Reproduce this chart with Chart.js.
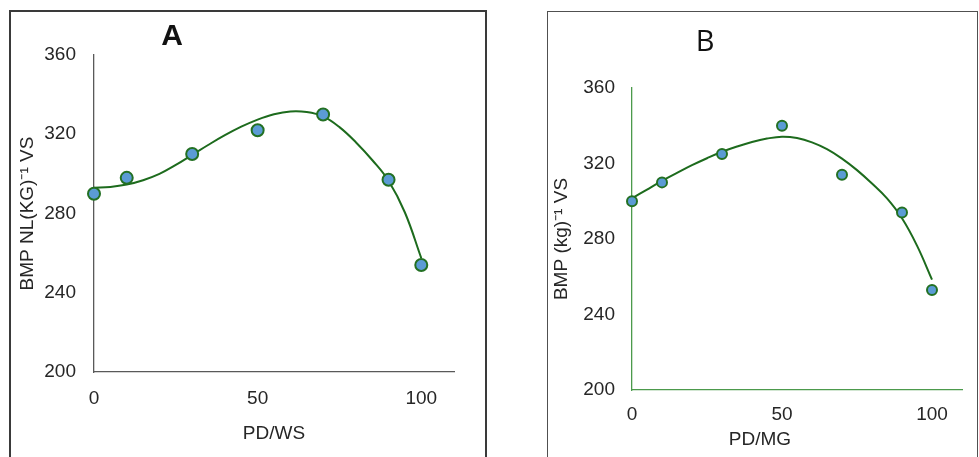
<!DOCTYPE html>
<html>
<head>
<meta charset="utf-8">
<script src="https://cdn.jsdelivr.net/npm/chart.js@4/dist/chart.umd.min.js"></script>
<style>
  body { margin: 0; background: #fff; width: 979px; height: 457px; overflow: hidden; position: relative; }
  .frame { position: absolute; box-sizing: border-box; }
  #frameA { left: 9px; top: 10px; width: 478px; height: 470px; border: 2px solid #3a3a3a; }
  #frameB { left: 547px; top: 11px; width: 431px; height: 470px; border: 1.5px solid #505050; }
  canvas { position: absolute; }
  #chartA { left: 10px; top: 11px; }
  #chartB { left: 548px; top: 12px; }
</style>
</head>
<body>
<div class="frame" id="frameA"></div>
<div class="frame" id="frameB"></div>
<canvas id="chartA" width="474" height="446"></canvas>
<canvas id="chartB" width="429" height="445"></canvas>
<script>
// Measured points
const pdRatio = [0, 10, 30, 50, 70, 90, 100];
const bmpWS = [290, 298, 310, 322, 330, 297, 254];
const bmpMG = [300, 310, 325, 340, 314, 294, 253];

// Trend lines, every 5 units of x
const trendX = [0, 5, 10, 15, 20, 25, 30, 35, 40, 45, 50, 55, 60, 65, 70, 75, 80, 85, 90, 95, 100];
const trendWS = [293, 293.4, 294.6, 296.8, 300, 304.5, 309.6, 314.7, 319.5, 323.8, 327.4, 330.1, 331.5, 331.2, 329, 323.6, 316, 307, 296.5, 280.5, 257.5];
const trendMG = [301.5, 306.2, 310.8, 315, 319.1, 322.8, 326.2, 329, 331.4, 333.2, 334.2, 333.5, 331.2, 327.6, 322.6, 316.5, 309.4, 301.5, 291, 276.5, 258.5];

// Axis ticks
const xTicks = [0, 50, 100];
const yTicks = [200, 240, 280, 320, 360];

const FONT = "'Liberation Sans', Arial, sans-serif";
const TEXT = '#262626';

// draws panel letter and any free-placed labels
const labelPlugin = {
  id: 'freeLabels',
  afterDraw(chart, args, opts) {
    const ctx = chart.ctx;
    (opts.items || []).forEach(it => {
      ctx.save();
      ctx.font = it.font;
      ctx.fillStyle = it.color || TEXT;
      ctx.textAlign = 'center';
      ctx.textBaseline = 'middle';
      ctx.fillText(it.text, it.x, it.y);
      ctx.restore();
    });
  }
};

function pts(xs, ys) {
  return xs.map((x, i) => ({ x: x, y: ys[i] }));
}

function makeChart(id, cfg) {
  return new Chart(document.getElementById(id), {
    type: 'line',
    data: {
      datasets: [
        {
          label: 'trend',
          data: pts(trendX, cfg.trend),
          borderColor: '#1d6b1d',
          borderWidth: 2,
          tension: 0.4,
          pointRadius: 0,
          clip: false,
          order: 2
        },
        {
          label: 'measured',
          data: pts(pdRatio, cfg.values),
          showLine: false,
          backgroundColor: '#5b9bd5',
          borderColor: '#237023',
          borderWidth: 2,
          pointRadius: cfg.r,
          clip: false,
          order: 1
        }
      ]
    },
    plugins: [labelPlugin],
    options: {
      responsive: false,
      animation: false,
      layout: { padding: cfg.pad },
      plugins: {
        legend: { display: false },
        tooltip: { enabled: false },
        freeLabels: { items: cfg.labels }
      },
      scales: {
        x: {
          type: 'linear',
          min: 0,
          max: 110,
          afterBuildTicks: s => { s.ticks = xTicks.map(v => ({ value: v })); },
          afterFit: s => { s.height = cfg.xh; },
          grid: { display: false, drawTicks: false },
          border: { display: true, color: cfg.axis, width: 1.3 },
          ticks: { padding: cfg.xtp, color: TEXT, font: { family: FONT, size: 19 } },
          title: cfg.xTitle
            ? { display: true, text: cfg.xTitle, color: TEXT, padding: { top: 0, bottom: cfg.xtb }, font: { family: FONT, size: 19 } }
            : { display: false }
        },
        y: {
          min: 200,
          max: 360,
          afterBuildTicks: s => { s.ticks = yTicks.map(v => ({ value: v })); },
          afterFit: s => { s.width = cfg.yw; },
          grid: { display: false, drawTicks: false },
          border: { display: true, color: cfg.axis, width: 1.3 },
          ticks: { padding: cfg.ytp, color: TEXT, font: { family: FONT, size: 19 } },
          title: { display: true, text: cfg.yTitle, color: TEXT, padding: { top: cfg.ytt, bottom: 0 }, font: { family: FONT, size: 19 } }
        }
      }
    }
  });
}

makeChart('chartA', {
  values: bmpWS,
  trend: trendWS,
  r: 6,
  axis: '#595959',
  pad: { left: 0, right: 30, top: 44, bottom: 0 },
  yw: 84, xh: 85,
  xtp: 15, xtb: 12,
  ytp: 18, ytt: 6,
  xTitle: 'PD/WS',
  yTitle: 'BMP NL(KG)⁻¹ VS',
  labels: [{ text: 'A', x: 162, y: 26, font: 'bold 30px ' + FONT, color: '#111' }]
});

makeChart('chartB', {
  values: bmpMG,
  trend: trendMG,
  r: 5,
  axis: '#4c9a4c',
  pad: { left: 0, right: 15, top: 76, bottom: 0 },
  yw: 84, xh: 67,
  xtp: 13, xtb: 0,
  ytp: 17, ytt: 2,
  xTitle: null,
  yTitle: 'BMP (kg)⁻¹ VS',
  labels: [
    { text: 'B', x: 157, y: 31, font: "29px 'Open Sans', " + FONT, color: '#111' },
    { text: 'PD/MG', x: 212, y: 428, font: '19px ' + FONT }
  ]
});
</script>
</body>
</html>
